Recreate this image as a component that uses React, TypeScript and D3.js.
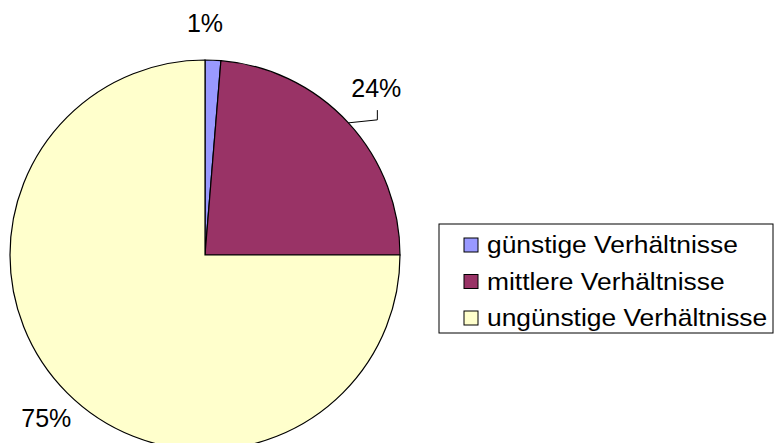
import { useMemo } from 'react';
import * as d3 from 'd3';

const WIDTH = 780;
const HEIGHT = 443;

const categories = ['günstige Verhältnisse', 'mittlere Verhältnisse', 'ungünstige Verhältnisse'];
const values = [1.3, 23.7, 75];
const colors = ['#9999FF', '#993366', '#FFFFCC'];

const CENTER = { x: 205, y: 255 };
const RADIUS = 195;
const LABEL_RADIUS = 233;
// hand nudges of the data labels, the way they were dragged in the original
const LABEL_NUDGE: [number, number][] = [[0, 1], [0, -9], [6, -2]];

const LEGEND = { x: 439, y: 224, width: 334, height: 109, rowHeight: 36.5 };

type Slice = d3.PieArcDatum<number>;

export default function App() {
  const arcs = useMemo<Slice[]>(() => {
    return d3.pie<number>().sort(null).value((d) => d)(values);
  }, []);

  const arcBuilder = d3.arc<Slice>().innerRadius(0).outerRadius(RADIUS);
  const labelArc = d3.arc<Slice>().innerRadius(LABEL_RADIUS).outerRadius(LABEL_RADIUS);
  const edgeArc = d3.arc<Slice>().innerRadius(RADIUS).outerRadius(RADIUS);

  const font = '"Liberation Sans", Arial, sans-serif';

  return (
    <svg width={WIDTH} height={HEIGHT} style={{ position: 'absolute', left: 0, top: 0, background: '#fff' }}>
      <g transform={`translate(${CENTER.x},${CENTER.y})`}>
        {arcs.map((a, i) => (
          <path key={i} d={arcBuilder(a) ?? ''} fill={colors[i]} stroke='#000' strokeWidth={1.2} />
        ))}
        {arcs.map((a, i) => {
          let [lx, ly] = labelArc.centroid(a);
          // first label sits centered over the top, like the original
          if (i === 0) lx = 0;
          lx += LABEL_NUDGE[i][0];
          const baseline = ly + 9 + LABEL_NUDGE[i][1];
          const [ex, ey] = edgeArc.centroid(a);
          const pct = Math.round(values[i]) + '%';
          // only the middle slice has a leader line
          const leader = i === 1 ? (
            <polyline
              points={`${ex},${ey} ${lx + 1},${ey - 3} ${lx + 1},${baseline + 13}`}
              fill='none'
              stroke='#000'
              strokeWidth={1}
            />
          ) : null;
          return (
            <g key={'l' + i}>
              {leader}
              <text
                x={lx}
                y={baseline}
                textAnchor='middle'
                fontSize={25}
                fontFamily={font}
                fill='#000'
              >
                {pct}
              </text>
            </g>
          );
        })}
      </g>

      <g transform={`translate(${LEGEND.x},${LEGEND.y})`}>
        <rect width={LEGEND.width} height={LEGEND.height} fill='#fff' stroke='#000' strokeWidth={1} />
        {categories.map((c, i) => {
          const cy = 21 + i * LEGEND.rowHeight;
          return (
            <g key={c} transform={`translate(0,${cy})`}>
              <rect x={25} y={-7} width={14} height={14} fill={colors[i]} stroke='#000' strokeWidth={1} />
              <text
                x={48}
                y={8}
                fontSize={24}
                fontFamily={font}
                fill='#000'
                transform='translate(48,0) scale(1.1,1) translate(-48,0)'
              >
                {c}
              </text>
            </g>
          );
        })}
      </g>
    </svg>
  );
}
